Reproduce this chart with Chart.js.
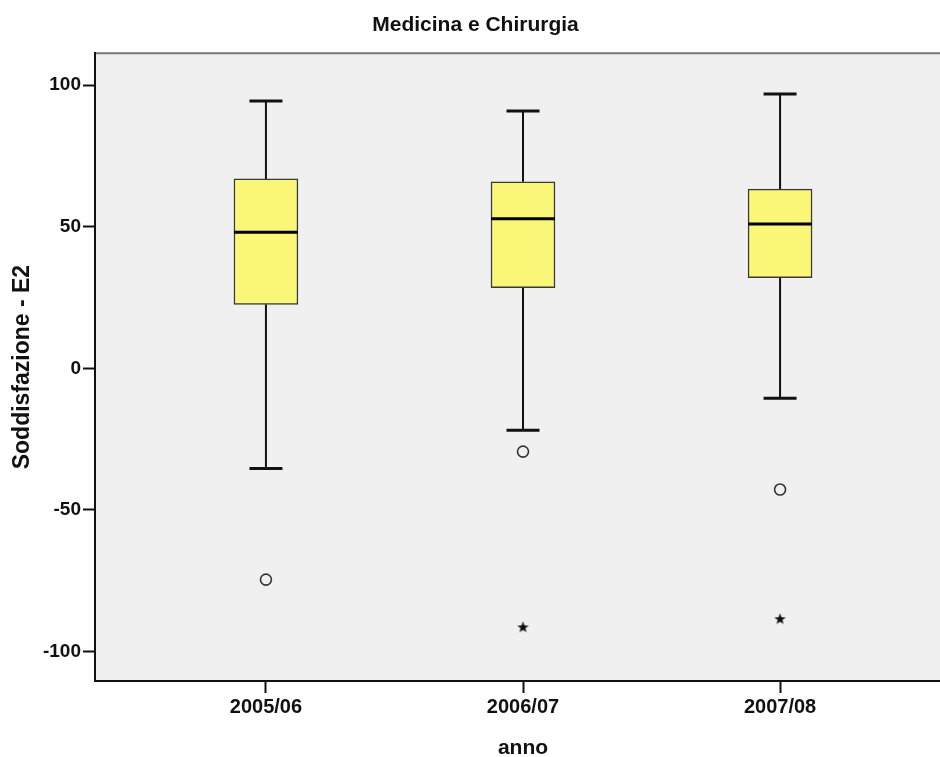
<!DOCTYPE html>
<html>
<head>
<meta charset="utf-8">
<script src="https://cdn.jsdelivr.net/npm/chart.js@4"></script>
<style>
  html, body { margin: 0; padding: 0; background: #fff; overflow: hidden; }
</style>
</head>
<body>
<canvas id="myChart" width="967" height="757"></canvas>
<script>
const anni = ['2005/06', '2006/07', '2007/08'];
const baffoBasso = [-35.4, -21.9, -10.6];
const q1 = [22.6, 28.5, 32.0];
const mediana = [48.1, 52.8, 51.0];
const q3 = [66.9, 65.9, 63.3];
const baffoAlto = [94.4, 90.9, 96.9];
const outlier = [[-74.6], [-29.4], [-42.8]];
const estremi = [[], [-91.3], [-88.4]];
const yTicks = [-100, -50, 0, 50, 100];

const FONT = "'Liberation Sans', Arial, sans-serif";

// stellina piena per i valori estremi
const star = document.createElement('canvas');
star.width = 13; star.height = 13;
(function () {
  const c = star.getContext('2d');
  c.fillStyle = '#111';
  c.beginPath();
  for (let i = 0; i < 10; i++) {
    const r = i % 2 === 0 ? 6 : 2.5;
    const a = -Math.PI / 2 + i * Math.PI / 5;
    const px = 6.5 + r * Math.cos(a), py = 7 + r * Math.sin(a);
    if (i === 0) c.moveTo(px, py); else c.lineTo(px, py);
  }
  c.closePath();
  c.fill();
})();

const boxData = anni.map((a, i) => ({ x: i, y: [q1[i], q3[i]] }));
const outData = [];
outlier.forEach((vals, i) => vals.forEach(v => outData.push({ x: i, y: v })));
const extData = [];
estremi.forEach((vals, i) => vals.forEach(v => extData.push({ x: i, y: v })));

const sfondo = {
  id: 'sfondo',
  beforeDraw(chart) {
    const { ctx, chartArea: ca } = chart;
    ctx.save();
    ctx.fillStyle = '#f0f0f0';
    ctx.fillRect(ca.left, ca.top, ca.right - ca.left, ca.bottom - ca.top);
    ctx.strokeStyle = '#7a7a7a';
    ctx.lineWidth = 2;
    ctx.beginPath();
    ctx.moveTo(ca.left, ca.top);
    ctx.lineTo(ca.right, ca.top);
    ctx.lineTo(ca.right, ca.bottom);
    ctx.stroke();
    ctx.restore();
  }
};

const baffi = {
  id: 'baffi',
  beforeDatasetsDraw(chart) {
    const { ctx, scales: { x, y } } = chart;
    ctx.save();
    ctx.strokeStyle = '#111';
    anni.forEach((a, i) => {
      const cx = x.getPixelForValue(i);
      ctx.lineWidth = 2;
      ctx.beginPath();
      ctx.moveTo(cx, y.getPixelForValue(baffoAlto[i]));
      ctx.lineTo(cx, y.getPixelForValue(q3[i]));
      ctx.moveTo(cx, y.getPixelForValue(q1[i]));
      ctx.lineTo(cx, y.getPixelForValue(baffoBasso[i]));
      ctx.stroke();
      ctx.lineWidth = 3;
      ctx.beginPath();
      [baffoAlto[i], baffoBasso[i]].forEach(v => {
        const py = y.getPixelForValue(v);
        ctx.moveTo(cx - 16.5, py);
        ctx.lineTo(cx + 16.5, py);
      });
      ctx.stroke();
    });
    ctx.restore();
  },
  afterDatasetsDraw(chart) {
    const { ctx, scales: { x, y } } = chart;
    ctx.save();
    ctx.strokeStyle = '#000';
    ctx.lineWidth = 3;
    anni.forEach((a, i) => {
      const cx = x.getPixelForValue(i);
      const py = y.getPixelForValue(mediana[i]);
      ctx.beginPath();
      ctx.moveTo(cx - 32, py);
      ctx.lineTo(cx + 32, py);
      ctx.stroke();
    });
    ctx.restore();
  }
};

new Chart(document.getElementById('myChart').getContext('2d'), {
  type: 'bar',
  data: {
    datasets: [
      {
        type: 'scatter',
        data: outData,
        pointStyle: 'circle',
        pointRadius: 5.5,
        backgroundColor: 'rgba(0,0,0,0)',
        borderColor: '#333',
        borderWidth: 1.6,
        order: 0
      },
      {
        type: 'scatter',
        data: extData,
        pointStyle: star,
        order: 0
      },
      {
        type: 'bar',
        data: boxData,
        barThickness: 64,
        backgroundColor: '#faf678',
        borderColor: '#3a3a3a',
        borderWidth: 1.5,
        borderSkipped: false,
        order: 1
      }
    ]
  },
  options: {
    responsive: false,
    animation: false,
    layout: { padding: { left: 0, right: 16, top: 0, bottom: 0 } },
    plugins: {
      legend: { display: false },
      tooltip: { enabled: false },
      title: {
        display: true,
        text: 'Medicina e Chirurgia',
        color: '#111',
        font: { family: FONT, size: 21, weight: 'bold', lineHeight: 1.15 },
        padding: { top: 13, bottom: 16 }
      }
    },
    scales: {
      x: {
        type: 'linear',
        offset: false,
        min: -0.665,
        max: 2.665,
        afterBuildTicks(scale) { scale.ticks = anni.map((a, i) => ({ value: i })); },
        afterFit(scale) { scale.height = 76; },
        ticks: {
          callback: (v) => anni[v],
          color: '#111',
          padding: 2,
          font: { family: FONT, size: 20, weight: 'bold' },
          maxRotation: 0
        },
        grid: { offset: false, drawOnChartArea: false, drawTicks: true, tickLength: 12, tickColor: '#111', tickWidth: 2 },
        border: { color: '#111', width: 2 },
        title: {
          display: true,
          text: 'anno',
          color: '#111',
          font: { family: FONT, size: 21, weight: 'bold', lineHeight: 0.85 },
          padding: 0
        }
      },
      y: {
        min: -110.4,
        max: 111.3,
        afterBuildTicks(scale) { scale.ticks = yTicks.map(v => ({ value: v })); },
        afterFit(scale) { scale.width = 95; },
        ticks: {
          color: '#111',
          padding: 2,
          font: { family: FONT, size: 19, weight: 'bold' }
        },
        grid: { drawOnChartArea: false, drawTicks: true, tickLength: 12, tickColor: '#111', tickWidth: 2 },
        border: { color: '#111', width: 2 },
        title: {
          display: true,
          text: 'Soddisfazione - E2',
          color: '#111',
          font: { family: FONT, size: 23, weight: 'bold', lineHeight: 1.2 },
          padding: { top: 9 }
        }
      }
    }
  },
  plugins: [sfondo, baffi]
});
</script>
</body>
</html>
